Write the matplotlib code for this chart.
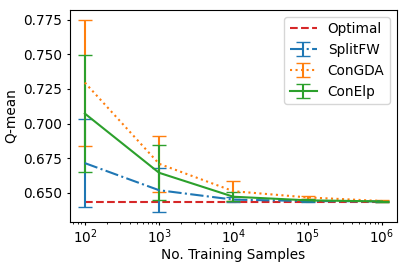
import matplotlib
matplotlib.use("Agg")
import matplotlib.pyplot as plt

samples = [1e2, 1e3, 1e4, 1e5, 1e6]
optimal = [0.6434, 0.6434, 0.6434, 0.6434, 0.6434]
splitfw = [0.6714, 0.6518, 0.6450, 0.6440, 0.6437]
splitfw_err = [0.0320, 0.0160, 0.0020, 0.0010, 0.0005]
congda = [0.7296, 0.6709, 0.6511, 0.6466, 0.6440]
congda_err = [0.0455, 0.0203, 0.0072, 0.0008, 0.0005]
conelp = [0.7072, 0.6644, 0.6471, 0.6445, 0.6437]
conelp_err = [0.0424, 0.0198, 0.0033, 0.0008, 0.0004]

plt.rcParams['font.size'] = 9.8
fig = plt.figure(figsize=(4.07, 2.67), dpi=100)
ax = fig.add_axes([70/407, 1-222/267, (396.7-70)/407, (222-10)/267])

lw = 1.5
ax.plot(samples, optimal, color='C3', linestyle='--', lw=lw, label='Optimal')
ax.errorbar(samples, splitfw, yerr=splitfw_err, color='C0', linestyle='-.', lw=lw, capsize=5, label='SplitFW')
ax.errorbar(samples, congda, yerr=congda_err, color='C1', linestyle=':', lw=lw, capsize=5, label='ConGDA')
ax.errorbar(samples, conelp, yerr=conelp_err, color='C2', linestyle='-', lw=lw, capsize=5, label='ConElp')

ax.set_xscale('log')
ax.set_yticks([0.650, 0.675, 0.700, 0.725, 0.750, 0.775])
ax.tick_params(axis='both', which='major', length=2.2)
ax.tick_params(axis='both', which='minor', length=1.3)
ax.tick_params(axis='x', which='major', pad=2.0)
ax.tick_params(axis='y', which='major', pad=3.3)
ax.set_xlabel('No. Training Samples', labelpad=0.8)
ax.set_ylabel('Q-mean', labelpad=4)
ax.legend(loc='upper right')

fig.savefig('out.png', dpi=100)
